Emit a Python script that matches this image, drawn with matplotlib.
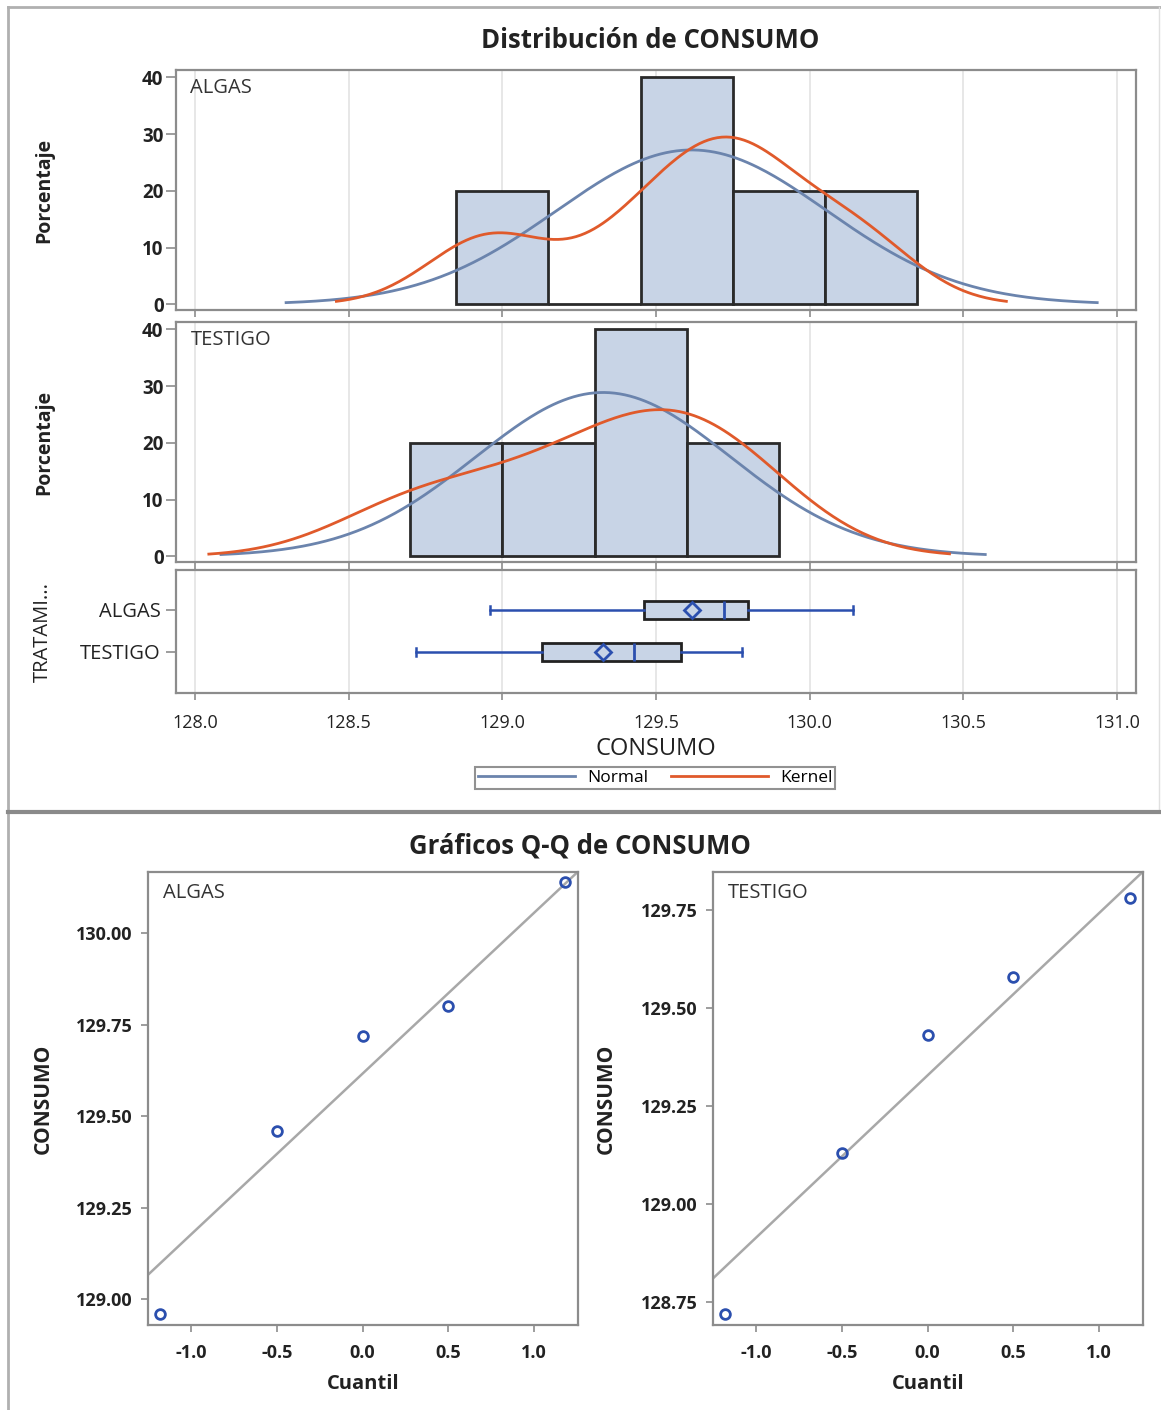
import numpy as np
import matplotlib
matplotlib.use("Agg")
import matplotlib.pyplot as plt
from matplotlib.lines import Line2D

plt.rcParams["font.family"] = ["Open Sans", "DejaVu Sans"]

# data
groups = ["ALGAS", "TESTIGO"]
consumo_algas = [128.96, 129.46, 129.72, 129.80, 130.14]
consumo_testigo = [128.72, 129.13, 129.43, 129.58, 129.78]
bin_edges_algas = [128.85, 129.15, 129.45, 129.75, 130.05, 130.35]
bin_edges_testigo = [128.70, 129.00, 129.30, 129.60, 129.90]
kernel_bw = {"ALGAS": 0.20, "TESTIGO": 0.27}
hist_yticks = [0, 10, 20, 30, 40]
x_ticks = [128.0, 128.5, 129.0, 129.5, 130.0, 130.5, 131.0]
qq_xticks = [-1.0, -0.5, 0.0, 0.5, 1.0]
qq_yticks_algas = [129.00, 129.25, 129.50, 129.75, 130.00]
qq_yticks_testigo = [128.75, 129.00, 129.25, 129.50, 129.75]
blom_quantiles = [-1.18, -0.497, 0.0, 0.497, 1.18]

data = {"ALGAS": consumo_algas, "TESTIGO": consumo_testigo}
edges = {"ALGAS": bin_edges_algas, "TESTIGO": bin_edges_testigo}

FILL = "#c8d4e6"
NORMAL_C = "#6b84ad"
KERNEL_C = "#e05a2b"
BLUE = "#2b4fae"
SPINE = "#8c8c8c"
GRID = "#e3e3e3"
TXT = "#222222"

W, H = 1161, 1410
fig = plt.figure(figsize=(W / 100, H / 100), dpi=100)


def px(l, t, r, b):
    return [l / W, 1 - b / H, (r - l) / W, (b - t) / H]


def style(ax):
    for s in ax.spines.values():
        s.set_color(SPINE)
        s.set_linewidth(1.6)
    ax.tick_params(color=SPINE, length=5, width=1.2, labelcolor=TXT)


# outer frames
fig.add_artist(Line2D([8 / W, 8 / W], [0, 1 - 7 / H], color="#b0b0b0", lw=2))
fig.add_artist(Line2D([8 / W, 1], [1 - 7 / H, 1 - 7 / H], color="#b0b0b0", lw=2))
fig.add_artist(Line2D([1159 / W, 1159 / W], [1 - 812 / H, 1 - 7 / H], color="#e0e0e0", lw=1))
fig.add_artist(Line2D([8 / W, 1], [1 - 812 / H, 1 - 812 / H], color="#8a8a8a", lw=3))

fig.text(650 / W, 1 - 40 / H, "Distribución de CONSUMO", ha="center", va="center",
         fontsize=18.5, fontweight="bold", color=TXT)

xlim = (128.0 - 19 / 307.3, 131.0 + 19 / 307.3)
hist_boxes = {"ALGAS": (70, 310), "TESTIGO": (322, 562)}

for g in groups:
    t, b = hist_boxes[g]
    ax = fig.add_axes(px(176, t, 1136, b))
    vals = np.array(data[g])
    ax.hist(vals, bins=edges[g], weights=np.full(len(vals), 100 / len(vals)),
            facecolor=FILL, edgecolor="#2a2a2a", linewidth=2, zorder=2)
    bw = edges[g][1] - edges[g][0]
    m, s = vals.mean(), vals.std(ddof=1)
    xs = np.linspace(m - 3 * s, m + 3 * s, 300)
    ax.plot(xs, 100 * bw * np.exp(-0.5 * ((xs - m) / s) ** 2) / (s * np.sqrt(2 * np.pi)),
            color=NORMAL_C, lw=2, zorder=3)
    h = kernel_bw[g]
    xk = np.linspace(vals.min() - 2.5 * h, vals.max() + 2.5 * h, 300)
    dens = np.exp(-0.5 * ((xk[:, None] - vals[None, :]) / h) ** 2).sum(axis=1) / (len(vals) * h * np.sqrt(2 * np.pi))
    ax.plot(xk, 100 * bw * dens, color=KERNEL_C, lw=2, zorder=4)
    ax.set_xlim(xlim)
    ax.set_ylim(-1.0, 41.3)
    ax.set_xticks(x_ticks)
    ax.grid(axis="x", color=GRID, lw=1.2, zorder=0)
    ax.set_axisbelow(True)
    ax.tick_params(axis="x", length=0, labelbottom=False)
    ax.set_yticks(hist_yticks)
    style(ax)
    ax.tick_params(axis="y", labelsize=13.5, length=7, pad=2)
    for lab in ax.get_yticklabels():
        lab.set_fontweight("bold")
    ax.text(0.015, 0.965, g, transform=ax.transAxes, ha="left", va="top", fontsize=14.5, color="#333333")
    ax.set_ylabel("Porcentaje", fontsize=14, fontweight="bold", color=TXT)
    ax.yaxis.set_label_coords((54 - 176) / 960, 0.5)

# box plots
ax = fig.add_axes(px(176, 570, 1136, 693))
pos = {"ALGAS": 1, "TESTIGO": 0}
for g in groups:
    vals = np.array(data[g])
    bp = ax.boxplot([vals], positions=[pos[g]], vert=False, widths=0.43, whis=(0, 100),
                    patch_artist=True, showmeans=True, showfliers=False,
                    boxprops=dict(facecolor=FILL, edgecolor="#222222", linewidth=2),
                    whiskerprops=dict(color=BLUE, lw=1.8),
                    capprops=dict(color=BLUE, lw=1.8),
                    medianprops=dict(color=BLUE, lw=2),
                    meanprops=dict(marker="D", markerfacecolor="none", markeredgecolor=BLUE,
                                   markeredgewidth=2, markersize=8))
    for c in bp["caps"]:
        c.set_ydata([pos[g] - 0.1, pos[g] + 0.1])
ax.set_xlim(xlim)
ax.set_ylim(-0.98, 1.95)
ax.set_yticks([pos[g] for g in groups])
ax.set_yticklabels(groups)
ax.set_xticks(x_ticks)
ax.set_xticklabels([f"{v:.1f}" for v in x_ticks])
ax.grid(axis="x", color=GRID, lw=1.2)
ax.set_axisbelow(True)
style(ax)
ax.tick_params(axis="y", labelsize=14.5, length=7, pad=4)
ax.tick_params(axis="x", labelsize=13, pad=10)
ax.set_ylabel("TRATAMI...", fontsize=14.5, color=TXT)
ax.yaxis.set_label_coords((53 - 176) / 960, 0.5)
ax.set_xlabel("CONSUMO", fontsize=17, color=TXT, labelpad=4)

handles = [Line2D([], [], color=NORMAL_C, lw=2), Line2D([], [], color=KERNEL_C, lw=2)]
leg = fig.legend(handles, ["Normal", "Kernel"], loc="center", bbox_to_anchor=(655 / W, 1 - 778 / H),
                 ncol=2, fontsize=12.5, frameon=True, fancybox=False, handlelength=5.6,
                 columnspacing=1.3, borderpad=0.15, handletextpad=0.7, borderaxespad=0)
leg.get_frame().set_edgecolor("#777777")
leg.get_frame().set_linewidth(1.5)

# Q-Q plots
fig.text(580 / W, 1 - 846 / H, "Gráficos Q-Q de CONSUMO", ha="center", va="center",
         fontsize=18.5, fontweight="bold", color=TXT)

qq_boxes = {"ALGAS": (148, 578), "TESTIGO": (713, 1143)}
qq_ylabel_x = {"ALGAS": 54, "TESTIGO": 617}
qq_ylims = {"ALGAS": (128.929, 130.167), "TESTIGO": (128.691, 129.847)}
qq_yticks = {"ALGAS": qq_yticks_algas, "TESTIGO": qq_yticks_testigo}
for g in groups:
    l, r = qq_boxes[g]
    ax = fig.add_axes(px(l, 872, r, 1325))
    vals = np.sort(np.array(data[g]))
    m, s = vals.mean(), vals.std(ddof=1)
    ax.set_xlim(-1.25, 1.255)
    ax.set_ylim(qq_ylims[g])
    ax.axline((0, m), slope=s, color="#a8a8a8", lw=1.8, zorder=1)
    ax.plot(blom_quantiles, vals, "o", mfc="none", mec=BLUE, mew=2, ms=7, zorder=3)
    ax.set_xticks(qq_xticks)
    ax.set_xticklabels([f"{v:.1f}" for v in qq_xticks])
    ax.set_yticks(qq_yticks[g])
    ax.set_yticklabels([f"{v:.2f}" for v in qq_yticks[g]])
    style(ax)
    ax.tick_params(labelsize=13)
    ax.tick_params(axis="x", pad=9)
    ax.tick_params(axis="y", pad=6)
    for lab in ax.get_xticklabels() + ax.get_yticklabels():
        lab.set_fontweight("bold")
    ax.set_xlabel("Cuantil", fontsize=14.5, fontweight="bold", color=TXT, labelpad=8)
    ax.set_ylabel("CONSUMO", fontsize=15, fontweight="bold", color=TXT)
    ax.yaxis.set_label_coords((qq_ylabel_x[g] - l) / (r - l), 0.5)
    ax.text(0.035, 0.975, g, transform=ax.transAxes, ha="left", va="top", fontsize=14.5, color="#333333")

fig.savefig("out.png", dpi=100)
